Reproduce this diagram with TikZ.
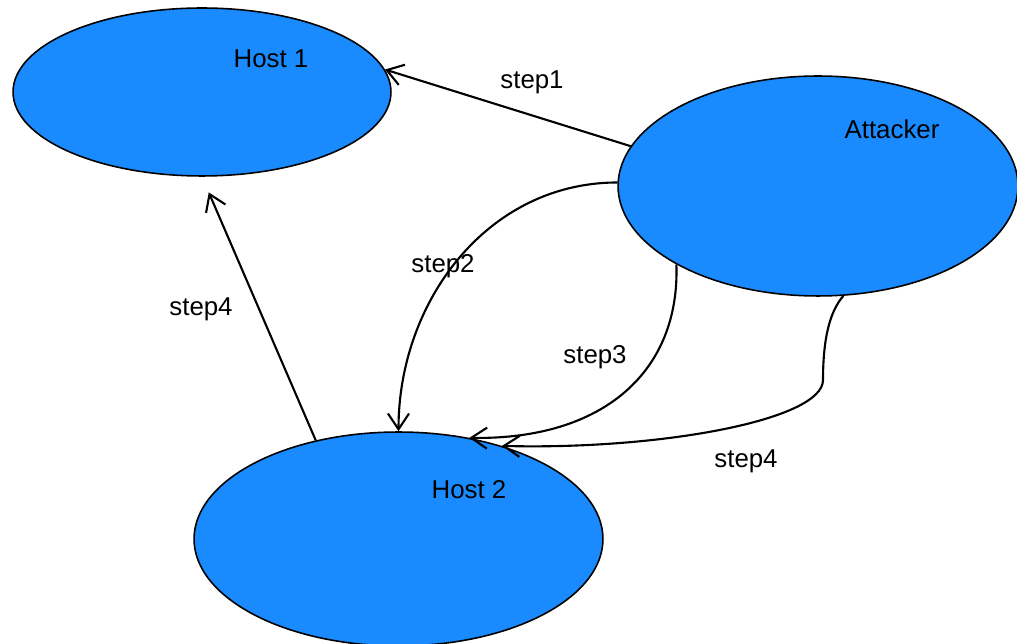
\documentclass[tikz,border=0pt]{standalone}
\usepackage{fontspec}
\setmainfont{Liberation Sans}
\usetikzlibrary{shapes.geometric,arrows.meta}
\definecolor{hostblue}{RGB}{26,138,255}

\begin{document}
\begin{tikzpicture}[x=0.02cm,y=-0.02cm,>={Straight Barb[length=9pt,width=12pt]},
  font=\fontsize{14.7}{17}\selectfont,
  host/.style={draw,ellipse,fill=hostblue,line width=0.9pt,inner sep=0pt},
  link/.style={->,line width=1.2pt}]

\useasboundingbox (0,0) rectangle (1017,644);
\clip (0,0) rectangle (1017,644);

\node[host,minimum width=7.56cm,minimum height=3.36cm] (host1) at (202,92) {};
\node[host,minimum width=8cm,minimum height=4.4cm] (attacker) at (818,186) {};
\node[host,minimum width=8.18cm,minimum height=4.28cm] (host2) at (398.5,539) {};

\node (lhost1) at (271,59) {Host 1};
\node (lattacker) at (892,129) {Attacker};
\node (lhost2) at (469,490) {Host 2};

% step1
\draw[link] (attacker.168) -- (host1.7);
\node (s1) at (532,82) {step1};

% step2
\draw[link] (attacker.179) to[out=180,in=90] (host2.north);
\node (s2) at (443,266) {step2};

% step3
\draw[link] (attacker.209) .. controls (680,370) and (605,440) .. (host2.55);
\node (s3) at (595,357) {step3};

% step4
\draw[link] (attacker.283) .. controls (831,310) and (823,335) .. (823,380)
  .. controls (823,420) and (660,450) .. (host2.42);
\node (s4a) at (746,461) {step4};

\draw[link,shorten >=0.34cm] (host2.130) -- (host1.south);
\node (s4b) at (201,309) {step4};

\end{tikzpicture}
\end{document}
